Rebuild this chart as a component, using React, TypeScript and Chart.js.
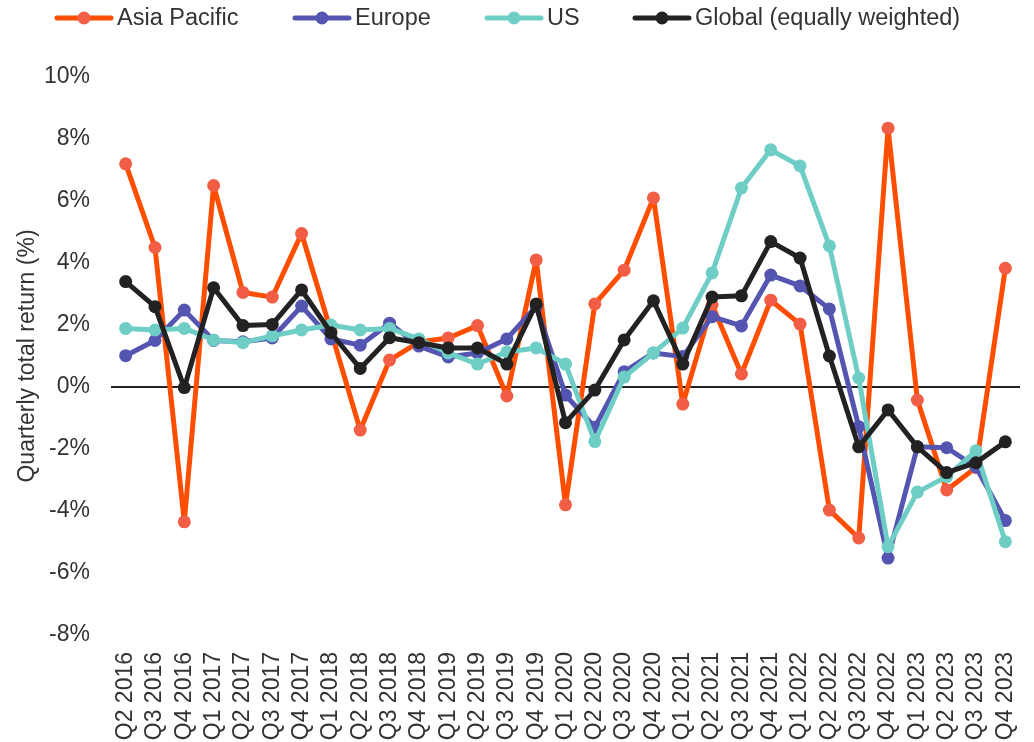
import React, { useEffect, useRef } from "react";
import { Chart, registerables } from "chart.js";

Chart.register(...registerables);

const categories = [
  "Q2 2016", "Q3 2016", "Q4 2016", "Q1 2017", "Q2 2017", "Q3 2017", "Q4 2017",
  "Q1 2018", "Q2 2018", "Q3 2018", "Q4 2018", "Q1 2019", "Q2 2019", "Q3 2019", "Q4 2019",
  "Q1 2020", "Q2 2020", "Q3 2020", "Q4 2020", "Q1 2021", "Q2 2021", "Q3 2021", "Q4 2021",
  "Q1 2022", "Q2 2022", "Q3 2022", "Q4 2022", "Q1 2023", "Q2 2023", "Q3 2023", "Q4 2023",
];

const asiaPacific = [7.2, 4.5, -4.35, 6.5, 3.05, 2.9, 4.95, 1.8, -1.39, 0.87, 1.45, 1.58, 1.98, -0.29, 4.1, -3.8, 2.68, 3.77, 6.1, -0.55, 2.65, 0.42, 2.8, 2.03, -3.97, -4.87, 8.35, -0.42, -3.32, -2.6, 3.83];
const europe = [1.01, 1.5, 2.48, 1.5, 1.46, 1.58, 2.61, 1.55, 1.35, 2.06, 1.32, 0.97, 1.1, 1.55, 2.6, -0.26, -1.3, 0.49, 1.1, 0.98, 2.27, 1.97, 3.61, 3.26, 2.52, -1.28, -5.52, -1.93, -1.96, -2.58, -4.31];
const us = [1.89, 1.84, 1.89, 1.52, 1.43, 1.65, 1.84, 2.0, 1.84, 1.89, 1.55, 1.1, 0.74, 1.13, 1.26, 0.74, -1.76, 0.32, 1.1, 1.9, 3.68, 6.42, 7.65, 7.13, 4.55, 0.29, -5.15, -3.39, -2.89, -2.06, -4.99];
const globalEq = [3.4, 2.59, -0.02, 3.2, 1.98, 2.02, 3.13, 1.75, 0.6, 1.59, 1.43, 1.26, 1.26, 0.74, 2.68, -1.15, -0.1, 1.52, 2.78, 0.74, 2.9, 2.94, 4.69, 4.16, 1.0, -1.93, -0.74, -1.93, -2.76, -2.44, -1.77];

const seriesNames = ["Asia Pacific", "Europe", "US", "Global (equally weighted)"];

const yMin = -8;
const yMax = 10;
const yStep = 2;

const FONT = "'Liberation Sans', Arial, sans-serif";
const TEXT = "#333333";
const LEGEND_X = [57, 295, 487, 635];

const legendPlugin = {
  id: "customLegend",
  afterDraw(chart: any) {
    const ctx = chart.ctx;
    ctx.save();
    ctx.font = `23.5px ${FONT}`;
    ctx.textBaseline = "middle";
    ctx.textAlign = "left";
    const y = 18;
    chart.data.datasets.forEach((ds: any, i: number) => {
      const x = LEGEND_X[i];
      ctx.strokeStyle = ds.borderColor;
      ctx.lineWidth = 5;
      ctx.lineCap = "round";
      ctx.beginPath();
      ctx.moveTo(x, y);
      ctx.lineTo(x + 54, y);
      ctx.stroke();
      ctx.fillStyle = ds.pointBackgroundColor;
      ctx.beginPath();
      ctx.arc(x + 27, y, 6.5, 0, Math.PI * 2);
      ctx.fill();
      ctx.fillStyle = TEXT;
      ctx.fillText(ds.label, x + 60, y + 1);
    });
    ctx.restore();
  },
};

export default function App() {
  const ref = useRef<HTMLCanvasElement | null>(null);

  useEffect(() => {
    if (!ref.current) return;
    const mk = (label: string, data: number[], line: string, pt: string, order: number) => ({
      label,
      data,
      borderColor: line,
      backgroundColor: pt,
      pointBackgroundColor: pt,
      pointBorderColor: pt,
      pointBorderWidth: 0,
      pointRadius: 6.5,
      borderWidth: 5,
      borderJoinStyle: "round" as any,
      borderCapStyle: "round" as any,
      tension: 0,
      order,
      clip: false as any,
    });
    const chart = new Chart(ref.current, {
      type: "line",
      data: {
        labels: categories,
        datasets: [
          mk(seriesNames[0], asiaPacific, "#FF4E00", "#F15E45", 3),
          mk(seriesNames[1], europe, "#5355B0", "#5355B0", 2),
          mk(seriesNames[2], us, "#6ECEC6", "#6ECEC6", 1),
          mk(seriesNames[3], globalEq, "#222222", "#222222", 0),
        ],
      },
      options: {
        animation: false,
        responsive: false,
        maintainAspectRatio: false,
        layout: { padding: { top: 77, right: 14, left: 0, bottom: 0 } },
        plugins: {
          legend: { display: false },
          tooltip: { enabled: false },
        },
        scales: {
          x: {
            offset: true,
            grid: { display: false, drawTicks: false },
            border: { display: false },
            ticks: {
              autoSkip: false,
              maxRotation: 90,
              minRotation: 90,
              padding: 17,
              color: TEXT,
              font: { family: FONT, size: 23 },
            },
            afterFit: (s: any) => {
              s.height = 107;
              s.paddingLeft = 0;
              s.paddingRight = 0;
            },
          },
          y: {
            min: yMin,
            max: yMax,
            grid: {
              drawTicks: false,
              color: (c: any) => (c.tick && c.tick.value === 0 ? "#222222" : "rgba(0,0,0,0)"),
              lineWidth: 2,
            },
            border: { display: false },
            ticks: {
              stepSize: yStep,
              padding: 21,
              color: TEXT,
              font: { family: FONT, size: 23 },
              callback: (v: any) => `${v}%`,
            },
            title: {
              display: true,
              text: "Quarterly total return (%)",
              color: TEXT,
              font: { family: FONT, size: 23 },
              padding: { top: 14, bottom: 0 },
            },
            afterFit: (s: any) => {
              s.width = 111;
            },
          },
        },
      },
      plugins: [legendPlugin],
    });
    return () => chart.destroy();
  }, []);

  return (
    <div style={{ position: "fixed", left: 0, top: 0, width: 1034, height: 742, background: "#fff" }}>
      <canvas ref={ref} width={1034} height={742} style={{ width: 1034, height: 742, display: "block" }} />
    </div>
  );
}
